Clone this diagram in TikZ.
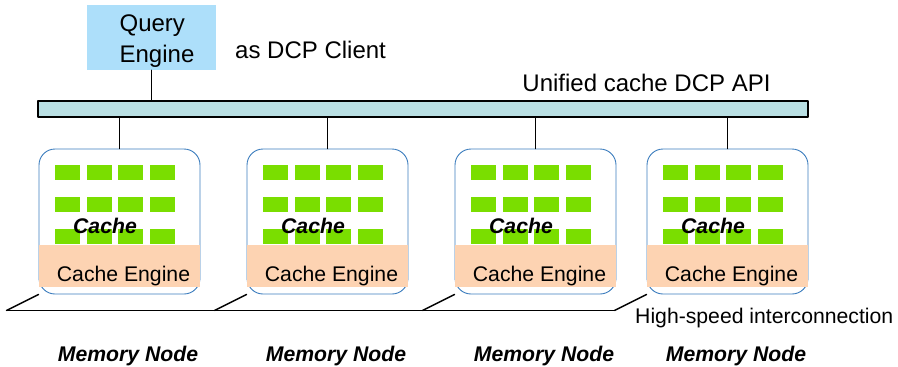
\documentclass[tikz,border=0pt]{standalone}
\usepackage{fontspec}
\setmainfont{Liberation Sans}
\definecolor{queryblue}{HTML}{ADDFFA}
\definecolor{apicyan}{HTML}{B9DFE3}
\definecolor{cachegreen}{HTML}{7ADE00}
\definecolor{enginepeach}{HTML}{FDD3B2}
\definecolor{nodeblue}{HTML}{3C7DBE}
\begin{document}
\begin{tikzpicture}[x=1pt, y=-1pt, line join=round, line cap=round,
	bigtext/.style={font=\fontsize{24}{31}\selectfont, inner sep=0pt},
	smalltext/.style={font=\fontsize{21.2}{25}\selectfont, inner sep=0pt},
	boldtext/.style={font=\fontsize{21.2}{25}\selectfont\bfseries\itshape, inner sep=0pt},
	querybox/.style={fill=queryblue, minimum width=129pt, minimum height=65pt, inner sep=0pt},
	apibar/.style={draw, line width=1.5pt, fill=apicyan, minimum width=770pt, minimum height=16pt, inner sep=0pt},
	membox/.style={draw=nodeblue, line width=0.9pt, fill=white, rounded corners=16pt, minimum width=161pt, minimum height=145pt, inner sep=0pt},
	enginebox/.style={fill=enginepeach, minimum width=161pt, minimum height=42pt, inner sep=0pt},
	link/.style={line width=1.4pt}]
				\useasboundingbox (0,0) rectangle (898,367);
				\node[querybox] (query) at (151.5,37.5) {};
				\node[bigtext, align=left] (querytext) at ([shift={(5.5,3.5)}]query.center) {Query\\Engine};
				\node[bigtext, anchor=base west] (client) at (235,58) {as DCP Client};
				\node[apibar] (api) at (423,109) {};
				\node[bigtext, anchor=base] (apitext) at (646.5,91) {Unified cache DCP API};
				\draw[link] (query.south) -- (query.south |- api.north);
				\foreach \i/\l in {1/39, 2/247, 3/455, 4/647} {
					\node[membox] (mem\i) at (\l+80.5,221.5) {};
					\foreach \c in {0,...,3} \foreach \r in {165,197,229} \fill[cachegreen] (\l+16+31.7*\c,\r) rectangle ++(25,15);
					\node[enginebox] (engine\i) at (\l+80.5,266) {};
					\node[smalltext, anchor=base] (enginetext\i) at (\l+84.5,281) {Cache Engine};
					\node[boldtext, anchor=base] (cache\i) at (\l+66,233) {Cache};
					\node[boldtext, anchor=base] (memtext\i) at (\l+89,361) {Memory Node};
					\draw[link] (mem\i.north) -- (mem\i.north |- api.south);
					\coordinate (ic\i) at ([shift={(-32,16)}]mem\i.south west);
					\draw[link] (ic\i) -- (mem\i.south west);
				}
				\draw[link] (ic1) -- (ic4);
				\node[smalltext, anchor=base west] (ictext) at (635,323) {High-speed interconnection};
			\end{tikzpicture}
\end{document}
